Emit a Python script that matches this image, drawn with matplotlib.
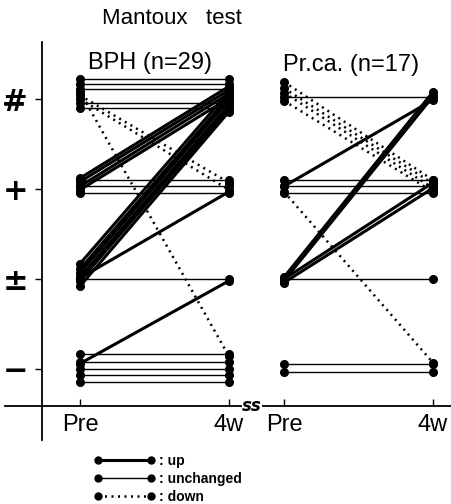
import matplotlib.pyplot as plt
from matplotlib.lines import Line2D

# grades: 0 = "-", 1 = "±", 2 = "+", 3 = "#" (small spread within a grade)
levels = [0, 1, 2, 3]
level_labels = ["−", "±", "+", "#"]
time_labels = ["Pre", "4w", "Pre", "4w"]

# BPH (n=29)
bph_pre = [3.22, 3.17, 3.11, 2.96, 2.90,          # unchanged #
           3.04, 3.00, 3.08,                      # down
           2.12, 2.08, 2.03, 1.99,                # + -> #
           2.10, 2.03, 1.96,                      # unchanged +
           1.17, 1.11, 1.07, 1.02, 0.98, 0.92,    # ± -> #
           1.01, 1.00, 0.06,                      # ± -> +, ± -> ±, - -> ±
           0.17, 0.08, 0.00, -0.07, -0.14]        # unchanged -
bph_post = [3.22, 3.17, 3.11, 2.96, 2.90,
            2.07, 1.99, 0.14,
            3.14, 3.10, 3.06, 3.01,
            2.10, 2.03, 1.96,
            3.08, 3.03, 2.99, 2.94, 2.90, 2.86,
            1.97, 1.00, 0.98,
            0.17, 0.08, 0.00, -0.07, -0.14]

# Pr.ca. (n=17)
prca_pre = [3.02,
            3.19, 3.12, 3.07, 2.98,
            2.03,
            2.10, 2.03, 1.96,
            1.97,
            1.02, 0.98,
            1.00, 0.96,
            1.00,
            0.06, -0.03]
prca_post = [3.02,
             2.10, 2.06, 2.01, 1.97,
             2.99,
             2.10, 2.03, 1.96,
             0.07,
             3.08, 3.03,
             2.07, 2.01,
             1.00,
             0.06, -0.03]


def change(a, b):
    if b - a > 0.5:
        return "up"
    if a - b > 0.5:
        return "down"
    return "unchanged"


styles = {
    "up": dict(color="black", lw=2.2, ls="-"),
    "unchanged": dict(color="black", lw=1.0, ls="-"),
    "down": dict(color="black", lw=1.8, ls=(0, (0.8, 1.8))),
}

W, H = 452, 504
fig = plt.figure(figsize=(W / 100, H / 100), dpi=100)
plt.rcParams['font.family'] = ['Liberation Sans', 'DejaVu Sans']

# axes placed in pixels: left edge 42, top 42, bottom 440
ax = fig.add_axes([42 / W, 64 / H, 410 / W, 398 / H])
px = 149.0  # pixels per x unit
ax.set_xlim((42 - 80) / px, (452 - 80) / px)
ax.set_ylim((369 - 440) / 90, (369 - 42) / 90)

group_x = [(0.0, 1.0), ((284 - 80) / px, (433 - 80) / px)]
groups = [(bph_pre, bph_post), (prca_pre, prca_post)]

for (x0, x1), (pre, post) in zip(group_x, groups):
    for a, b in zip(pre, post):
        ax.plot([x0, x1], [a, b], marker="o", ms=5.5, mfc="black", mec="black",
                solid_capstyle="butt", **styles[change(a, b)])

for s in ["top", "right"]:
    ax.spines[s].set_visible(False)
ax.spines["left"].set_linewidth(1.3)
axis_y = (369 - 406) / 90
ax.spines["bottom"].set_position(("data", axis_y))
ax.spines["bottom"].set_linewidth(1.3)
ax.plot([(5 - 80) / px, (42 - 80) / px], [axis_y, axis_y], color="black", lw=1.3, clip_on=False)

ax.set_yticks(levels)
ax.set_yticklabels(level_labels, fontsize=22, fontweight="bold", family="DejaVu Sans")
ax.tick_params(axis="y", direction="out", length=5, width=1, pad=5)

ax.set_xticks([group_x[0][0], group_x[0][1], group_x[1][0], group_x[1][1]])
ax.set_xticklabels(time_labels, fontsize=17)
ax.tick_params(axis="x", direction="in", length=5, width=1, pad=6)

# axis break mark
bx = (252 - 80) / px
ax.text(bx, axis_y, "ss", ha="center", va="center", fontsize=12, fontweight="bold",
        fontstyle="italic", family="DejaVu Sans",
        bbox=dict(boxstyle="square,pad=0.0", fc="white", ec="none"))

fig.text(172 / W, 1 - 18 / H, "Mantoux   test", ha="center", va="center", fontsize=16)
fig.text(150 / W, 1 - 63 / H, "BPH (n=29)", ha="center", va="center", fontsize=17)
fig.text(351 / W, 1 - 65 / H, "Pr.ca. (n=17)", ha="center", va="center", fontsize=17)

handles = [Line2D([0], [0], marker="o", ms=5, mfc="black", mec="black", **styles[k])
           for k in ["up", "unchanged", "down"]]
fig.legend(handles, [": up", ": unchanged", ": down"], loc="upper left",
           bbox_to_anchor=(94 / W, 1 - 454 / H), frameon=False, numpoints=2,
           handlelength=4.4, handletextpad=0.3, labelspacing=0.3,
           prop=dict(weight="bold", size=10),
           borderpad=0, borderaxespad=0)

plt.savefig("out.png", dpi=100)
